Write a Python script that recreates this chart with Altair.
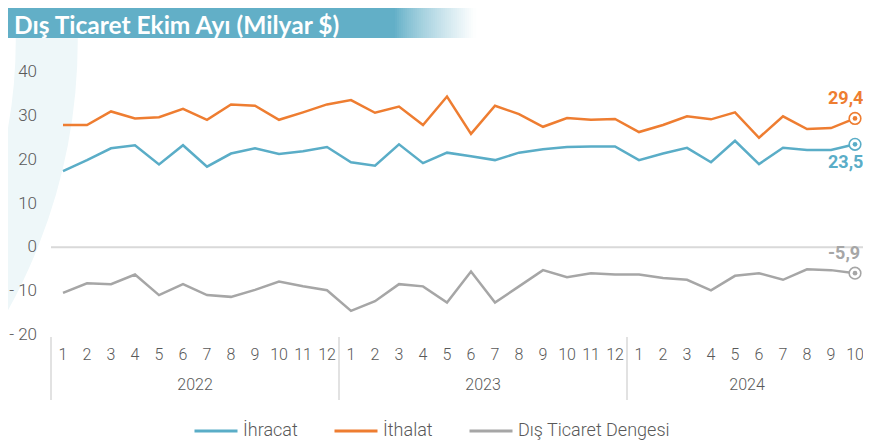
import altair as alt
import pandas as pd

# ---- data ----
years = [2022] * 12 + [2023] * 12 + [2024] * 10
months = list(range(1, 13)) + list(range(1, 13)) + list(range(1, 11))

ihracat = [17.4, 19.9, 22.6, 23.3, 18.9, 23.3, 18.4, 21.4, 22.6, 21.3, 21.9, 22.9,
           19.4, 18.6, 23.5, 19.2, 21.6, 20.8, 19.9, 21.6, 22.4, 22.9, 23.0, 23.0,
           19.9, 21.4, 22.7, 19.4, 24.3, 19.0, 22.7, 22.2, 22.2, 23.5]
ithalat = [27.9, 27.9, 31.0, 29.4, 29.7, 31.6, 29.1, 32.6, 32.3, 29.1, 30.8, 32.6,
           33.6, 30.7, 32.1, 27.9, 34.4, 25.9, 32.3, 30.4, 27.5, 29.5, 29.1, 29.3,
           26.3, 27.9, 29.9, 29.2, 30.8, 25.0, 29.9, 27.0, 27.2, 29.4]
denge = [-10.4, -8.2, -8.4, -6.2, -10.9, -8.4, -10.9, -11.3, -9.7, -7.8, -8.9, -9.8,
         -14.5, -12.3, -8.4, -8.9, -12.6, -5.5, -12.6, -8.9, -5.2, -6.8, -5.9, -6.2,
         -6.2, -7.0, -7.4, -9.8, -6.5, -5.9, -7.4, -5.0, -5.2, -5.9]

series_names = ["İhracat", "İthalat", "Dış Ticaret Dengesi"]
series_colors = ["#5AADC7", "#EE7D31", "#A6A6A6"]
end_labels = ["23,5", "29,4", "-5,9"]
year_labels = ["2022", "2023", "2024"]
year_centers = [5.5, 17.5, 28.5]
separators = [-0.5, 11.5, 23.5, 33.5]
y_ticks = [40, 30, 20, 10, 0, -10, -20]
y_tick_labels = ["40", "30", "20", "10", "0", "-  10", "-  20"]
title_text = "Dış Ticaret Ekim Ayı (Milyar $)"

# ---- tables ----
idx = list(range(len(months)))
rows = []
for name, vals in zip(series_names, [ihracat, ithalat, denge]):
    for i, v in zip(idx, vals):
        rows.append({"i": i, "series": name, "value": v})
df = pd.DataFrame(rows)

last = len(idx) - 1
end_df = pd.DataFrame({
    "i": [last] * 3,
    "series": series_names,
    "value": [ihracat[-1], ithalat[-1], denge[-1]],
    "label": end_labels,
})
month_df = pd.DataFrame({"i": idx, "m": [str(m) for m in months]})
year_df = pd.DataFrame({"i": year_centers, "y": year_labels})
sep_df = pd.DataFrame({"i": separators})
ytick_df = pd.DataFrame({"v": y_ticks, "t": y_tick_labels})
zero_df = pd.DataFrame({"a": [-0.5], "b": [33.5], "v": [0]})
one = pd.DataFrame({"k": [0]})

# decorative title band: solid part plus a fade to white built from thin slices
BAND = (98, 175, 199)
band_rows = [{"x0": -43, "x1": 345, "c": "#%02x%02x%02x" % BAND}]
steps = 40
for s in range(steps):
    t = ((s + 0.5) / steps) ** 0.8
    c = tuple(round(b + (255 - b) * t) for b in BAND)
    band_rows.append({"x0": 344 + s * 2, "x1": 344 + (s + 1) * 2 + 1.5,
                      "c": "#%02x%02x%02x" % c})
band_df = pd.DataFrame(band_rows)

FONT = "Roboto"
GRAY_TXT = "#595959"

xs = alt.Scale(domain=[-0.5, 33.333], nice=False, zero=False)
ys = alt.Scale(domain=[-20, 40], nice=False, zero=False)
cscale = alt.Scale(domain=series_names, range=series_colors)
color = alt.Color("series:N", scale=cscale, sort=series_names,
                  legend=alt.Legend(title=None, orient="none", legendX=142, legendY=336,
                                    direction="horizontal", symbolType="stroke",
                                    symbolSize=1849, symbolStrokeWidth=3,
                                    labelFont=FONT, labelFontSize=18, labelFontWeight=300,
                                    labelColor=GRAY_TXT, labelOffset=4, columnPadding=30,
                                    padding=0, labelLimit=300))

X = lambda f: alt.X(f, scale=xs, axis=None)
Y = lambda f: alt.Y(f, scale=ys, axis=None)

ring = alt.Chart(one).mark_point(shape="circle", filled=False, size=1110000,
                                 strokeWidth=62, color="#EEF7F9", opacity=1).encode(
    x=alt.value(-531), y=alt.value(-32))

bar = alt.Chart(band_df).mark_rect().encode(
    x=alt.X("x0:Q", scale=None, axis=None), x2="x1:Q",
    y=alt.value(-64), y2=alt.value(-34),
    fill=alt.Fill("c:N", scale=None, legend=None))

title = alt.Chart(one).mark_text(text=title_text, font="Lato", fontWeight="bold",
                                 fontSize=24.5, color="white", align="left",
                                 baseline="alphabetic").encode(
    x=alt.value(-37), y=alt.value(-38))

zero = alt.Chart(zero_df).mark_rule(color="#D9D9D9", strokeWidth=2).encode(
    x=X("a:Q"), x2="b:Q", y=Y("v:Q"))

ylab = alt.Chart(ytick_df).mark_text(font=FONT, fontWeight=300, fontSize=17,
                                     color=GRAY_TXT, align="right",
                                     baseline="middle").encode(
    x=alt.value(-14), y=Y("v:Q"), text="t:N")

lines = alt.Chart(df).mark_line(strokeWidth=2.5).encode(
    x=X("i:Q"), y=Y("value:Q"), color=color, detail="series:N")

marker_layers = []
for name, col, dy in zip(series_names, series_colors, [19, -19, -19]):
    sub = alt.Chart(end_df).transform_filter(alt.datum.series == name)
    marker_layers.append(sub.mark_point(shape="circle", filled=True, fill="white",
                                        stroke=col, size=135, strokeWidth=1.6,
                                        opacity=1).encode(x=X("i:Q"), y=Y("value:Q")))
    marker_layers.append(sub.mark_point(shape="circle", filled=True, color=col,
                                        size=22, opacity=1).encode(x=X("i:Q"), y=Y("value:Q")))
    marker_layers.append(sub.mark_text(font=FONT, fontWeight="bold", fontSize=18,
                                       align="left", dx=-27, dy=dy, baseline="middle",
                                       color=col).encode(
        x=X("i:Q"), y=Y("value:Q"), text="label:N"))

seps = alt.Chart(sep_df).mark_rule(color="#D9D9D9", strokeWidth=1.5).encode(
    x=X("i:Q"), y=alt.value(265), y2=alt.value(328))

mlabels = alt.Chart(month_df).mark_text(font=FONT, fontWeight=300, fontSize=16,
                                        color=GRAY_TXT, baseline="middle").encode(
    x=X("i:Q"), y=alt.value(283), text="m:N")
ylabels = alt.Chart(year_df).mark_text(font=FONT, fontWeight=300, fontSize=16,
                                       color=GRAY_TXT, baseline="middle").encode(
    x=X("i:Q"), y=alt.value(313), text="y:N")

chart = alt.layer(ring, bar, title, zero, ylab, lines, *marker_layers, seps,
                  mlabels, ylabels).properties(
    width=812, height=263,
    autosize=alt.AutoSizeParams(type="none"),
    padding={"left": 43, "top": 64, "right": 0, "bottom": 105},
    background="white",
).configure_view(stroke=None)

chart.save("out.html", embed_options={"renderer": "svg", "actions": False})
